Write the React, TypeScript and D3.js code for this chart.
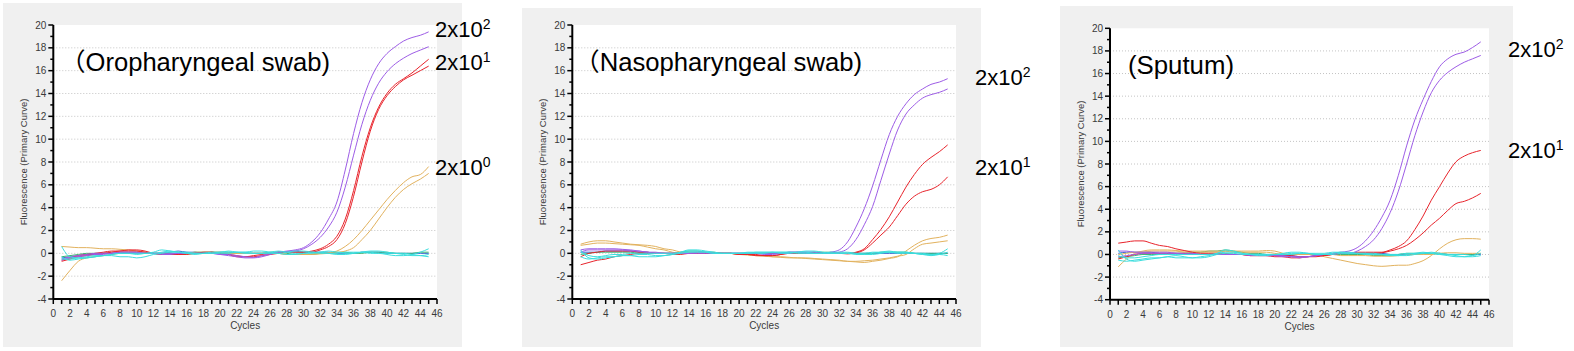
import React from "react";
import { scaleLinear, line, curveMonotoneX, range } from "d3";

// cycle numbers 1..45
const cycles = range(1, 46);
const yTicks = [-4, -2, 0, 2, 4, 6, 8, 10, 12, 14, 16, 18, 20];
const xTicks = [0, 2, 4, 6, 8, 10, 12, 14, 16, 18, 20, 22, 24, 26, 28, 30, 32, 34, 36, 38, 40, 42, 44, 46];

// ---- Oropharyngeal swab ----
const oroPurple1 = [-0.5, -0.3, -0.2, -0.1, 0, 0, 0, 0.1, 0.1, 0.1, 0, 0, 0, 0, 0, 0, 0, 0, 0, -0.1, -0.1, -0.2, -0.3, -0.35, -0.2, 0, 0.1, 0.2, 0.3, 0.5, 1.0, 1.8, 3.0, 4.5, 7.3, 10.5, 13.2, 15.2, 16.6, 17.5, 18.1, 18.6, 18.9, 19.1, 19.4];
const oroPurple2 = [-0.6, -0.4, -0.3, -0.2, -0.1, -0.1, 0, 0, 0, 0, 0, 0, -0.1, -0.1, 0, 0, 0, 0, 0, -0.1, -0.2, -0.3, -0.4, -0.4, -0.3, -0.1, 0.1, 0.15, 0.2, 0.4, 0.8, 1.4, 2.3, 3.6, 5.8, 8.6, 11.3, 13.4, 14.9, 15.9, 16.6, 17.1, 17.5, 17.8, 18.1];
const oroRed1 = [-0.6, -0.4, -0.2, -0.1, 0, 0.1, 0.2, 0.2, 0.3, 0.3, 0.2, 0, -0.1, -0.1, -0.1, 0, 0, 0.1, 0.1, 0, -0.1, -0.3, -0.3, -0.2, -0.1, 0, 0.1, 0.1, 0.1, 0.1, 0.2, 0.4, 0.8, 1.5, 3.0, 5.5, 8.5, 11.0, 12.8, 14.0, 14.8, 15.3, 15.8, 16.4, 17.0];
const oroRed2 = [-0.7, -0.5, -0.3, -0.2, -0.1, 0, 0.1, 0.2, 0.2, 0.2, 0.1, 0, 0, -0.1, -0.1, -0.1, 0, 0, 0.1, 0, -0.1, -0.2, -0.3, -0.3, -0.2, -0.1, 0, 0.1, 0.1, 0.1, 0.1, 0.3, 0.6, 1.2, 2.6, 5.0, 8.0, 10.7, 12.6, 13.8, 14.6, 15.2, 15.6, 16.0, 16.4];
const oroGold1 = [0.6, 0.55, 0.5, 0.5, 0.45, 0.4, 0.4, 0.35, 0.3, 0.2, 0.1, 0, -0.1, -0.1, -0.1, 0, 0.1, 0.1, 0.1, 0, 0, 0, 0, 0, 0, 0, 0, -0.1, -0.1, -0.1, -0.05, 0, 0.05, 0.2, 0.6, 1.2, 2.0, 2.9, 3.8, 4.7, 5.5, 6.2, 6.7, 6.9, 7.6];
const oroGold2 = [-2.4, -1.5, -0.7, -0.4, -0.3, -0.2, -0.1, 0, 0, 0, 0, 0, -0.1, -0.1, -0.1, -0.1, 0, 0, 0.1, 0.1, 0, 0, 0, 0, 0, 0, 0, -0.1, -0.1, -0.1, -0.1, -0.05, 0, 0.05, 0.2, 0.5, 1.2, 2.0, 3.0, 4.0, 4.9, 5.6, 6.1, 6.5, 7.0];
const oroCyan1 = [0.6, -0.3, -0.4, -0.3, -0.2, -0.2, -0.1, 0, 0, -0.1, 0, 0.1, 0.3, 0.2, 0.1, 0.1, 0, 0, 0, 0.1, 0.1, 0.1, 0.1, 0, 0, 0, 0, 0.1, 0.2, 0.2, 0.1, 0, 0, 0, 0.1, 0.1, 0.1, 0, 0, -0.1, -0.2, -0.2, -0.1, 0.1, 0.4];
const oroCyan2 = [-0.5, -0.5, -0.4, -0.4, -0.3, -0.2, -0.2, -0.3, -0.3, -0.4, -0.3, -0.1, 0, 0.1, 0.1, 0, 0, 0, 0, 0, 0, 0.1, 0.1, 0.2, 0.2, 0.1, 0, -0.1, -0.1, 0, 0.1, 0.1, 0, -0.1, -0.1, 0, 0.1, 0.2, 0.2, 0.1, 0, -0.1, -0.2, -0.2, -0.1];
const oroCyan3 = [-0.3, -0.6, -0.5, -0.4, -0.3, -0.2, -0.1, 0, 0, 0, 0, 0, 0.1, 0.2, 0.1, 0, -0.1, 0, 0.1, 0.1, 0.2, 0.1, 0, 0, 0, 0.1, 0.2, 0.1, 0, 0, 0, 0.1, 0.2, 0.1, 0, 0, 0.1, 0.1, 0, 0, 0, 0, -0.1, -0.2, -0.3];
const oroBlue = [-0.4, -0.3, -0.2, -0.1, -0.1, 0, 0, 0.1, 0.1, 0.1, 0, 0, 0, 0.1, 0.2, 0.1, 0.1, 0, 0, 0, 0, 0, 0, 0, 0, 0, 0.1, 0.1, 0.2, 0.1, 0.1, 0.1, 0.1, 0, 0, 0, 0.1, 0.1, 0.1, 0, 0, 0, 0, 0, 0];
const oroGreen = [-0.3, -0.2, -0.1, 0, 0, 0, 0, 0, 0, 0, 0, 0, 0, 0, 0, 0, 0.1, 0.1, 0.1, 0.1, 0.1, 0, 0, 0, 0, 0.1, 0.1, 0, -0.1, -0.1, -0.1, 0, 0, 0.1, 0.1, 0, 0, 0.1, 0.1, 0.1, 0, 0, 0, 0.1, 0.1];

// ---- Nasopharyngeal swab ----
const nasoPurple1 = [0.3, 0.4, 0.4, 0.4, 0.4, 0.35, 0.3, 0.2, 0.1, 0, 0, 0, 0, 0, 0.1, 0.1, 0, 0, 0, 0, 0, 0, -0.1, -0.1, 0, 0.1, 0.1, 0, 0, 0, 0.1, 0.3, 1.0, 2.3, 3.9, 5.9, 8.2, 10.4, 12.0, 13.1, 13.9, 14.4, 14.8, 15.0, 15.3];
const nasoPurple2 = [0.1, 0.3, 0.3, 0.3, 0.3, 0.3, 0.2, 0.2, 0.1, 0.1, 0, 0, 0, 0, 0, 0, 0, 0, 0, 0, 0, 0, 0, 0, 0, 0, 0.1, 0.1, 0.1, 0, 0, 0.1, 0.4, 1.2, 2.5, 4.1, 6.4, 8.7, 10.8, 12.2, 13.0, 13.6, 13.9, 14.1, 14.4];
const nasoRed1 = [-1.0, -0.8, -0.6, -0.5, -0.3, -0.2, -0.1, 0, 0, 0, 0, 0, 0, 0, 0, 0, 0, 0, 0, -0.1, -0.1, -0.2, -0.2, -0.2, -0.1, 0, 0, 0, 0, 0, 0, 0, -0.05, 0.1, 0.4, 1.2, 2.1, 3.2, 4.5, 5.8, 6.9, 7.8, 8.4, 8.9, 9.5];
const nasoRed2 = [-0.3, 0, 0.1, 0.2, 0.2, 0.2, 0.2, 0.1, 0.1, 0, 0, -0.1, -0.1, 0, 0, 0, 0, 0, 0, -0.1, -0.1, -0.1, -0.2, -0.2, -0.1, 0, 0, 0, 0, 0, 0, 0, 0, 0.05, 0.3, 0.9, 1.6, 2.3, 3.3, 4.3, 5.0, 5.4, 5.6, 6.0, 6.7];
const nasoGold1 = [0.8, 1.0, 1.1, 1.1, 1.0, 0.9, 0.8, 0.75, 0.7, 0.6, 0.4, 0.3, 0.1, 0, 0, 0, 0, 0, 0, -0.1, -0.1, -0.2, -0.2, -0.3, -0.35, -0.4, -0.4, -0.45, -0.5, -0.55, -0.6, -0.65, -0.7, -0.75, -0.8, -0.7, -0.6, -0.45, -0.3, 0.2, 0.7, 1.1, 1.3, 1.4, 1.6];
const nasoGold2 = [0.7, 0.8, 0.9, 0.9, 0.85, 0.8, 0.75, 0.7, 0.55, 0.4, 0.3, 0.1, 0, 0, 0, 0, 0, 0, 0, -0.1, -0.15, -0.2, -0.25, -0.3, -0.3, -0.35, -0.4, -0.4, -0.45, -0.5, -0.55, -0.6, -0.7, -0.7, -0.65, -0.6, -0.5, -0.4, -0.25, -0.1, 0.4, 0.8, 0.9, 1.0, 1.1];
const nasoCyan1 = [0.3, -0.4, -0.5, -0.4, -0.3, -0.2, -0.2, -0.1, -0.1, -0.2, -0.2, -0.1, 0.1, 0.3, 0.3, 0.2, 0.1, 0, 0, 0, 0, 0.1, 0.1, 0.1, 0, 0, 0.1, 0.2, 0.2, 0.1, 0, 0, 0, -0.1, -0.1, 0, 0.1, 0.2, 0.1, 0.1, 0, -0.1, -0.1, 0, 0.4];
const nasoCyan2 = [-0.3, -0.5, -0.4, -0.3, -0.3, -0.2, -0.2, -0.3, -0.3, -0.3, -0.2, -0.1, 0, 0.1, 0.1, 0.1, 0, 0, 0, 0, 0.1, 0.1, 0.1, 0.1, 0.1, 0.1, 0, 0, 0, 0, 0.1, 0.1, 0.1, 0, -0.1, -0.1, 0, 0.1, 0.1, 0.1, 0, -0.1, -0.2, -0.1, 0.1];
const nasoCyan3 = [0.1, -0.2, -0.3, -0.2, -0.1, -0.1, 0, 0, 0, 0, 0, 0, 0.1, 0.2, 0.2, 0.1, 0, 0, 0, 0, 0, 0, 0, 0.1, 0.1, 0.1, 0.1, 0.1, 0, 0, 0, 0, 0, 0, 0, 0.1, 0.1, 0.1, 0, 0, 0, 0, -0.1, -0.1, -0.2];
const nasoBlue = [0.1, 0.1, 0.1, 0.2, 0.2, 0.2, 0.2, 0.1, 0.1, 0, 0, 0, 0, 0, 0, 0, 0, 0, 0, 0, 0, 0, 0, 0, 0, 0.1, 0.1, 0.1, 0.1, 0, 0, 0, 0, 0, 0, 0, 0, 0, 0, 0, 0, 0, 0, 0, 0];
const nasoGreen = [-0.1, 0, 0.1, 0.1, 0.1, 0.1, 0.1, 0, 0, 0, 0, 0, 0.1, 0.2, 0.2, 0.1, 0.1, 0, 0, 0, 0, 0, 0, 0, 0, 0, 0, 0, 0.1, 0.1, 0.1, 0, 0, 0, 0, 0, 0.1, 0.1, 0.1, 0.1, 0, 0, 0, 0, 0];

// ---- Sputum ----
const spuPurple1 = [0.3, 0.3, 0.2, 0.2, 0.2, 0.2, 0.2, 0.1, 0.1, 0.1, 0, 0, 0, 0, 0, 0, 0, 0, -0.1, -0.1, -0.1, -0.2, -0.2, -0.2, -0.1, 0, 0.1, 0.2, 0.3, 0.6, 1.2, 2.1, 3.3, 4.8, 7.0, 9.6, 11.9, 13.7, 15.3, 16.6, 17.3, 17.7, 17.9, 18.3, 18.8];
const spuPurple2 = [-0.2, -0.1, 0, 0.1, 0.1, 0.1, 0.1, 0.1, 0, 0, 0, 0, 0, 0, 0, 0, -0.1, -0.1, -0.1, -0.1, -0.2, -0.2, -0.3, -0.2, -0.1, 0, 0, 0.1, 0.1, 0.3, 0.7, 1.3, 2.3, 3.7, 5.6, 8.0, 10.5, 12.6, 14.3, 15.4, 16.1, 16.6, 17.0, 17.3, 17.6];
const spuRed1 = [1.0, 1.1, 1.2, 1.2, 1.0, 0.8, 0.7, 0.5, 0.35, 0.2, 0.1, 0.1, 0.1, 0.1, 0, 0, -0.1, -0.1, -0.1, -0.1, -0.1, -0.1, -0.2, -0.2, -0.1, -0.1, 0, 0.1, 0.1, 0.2, 0.2, 0.2, 0.2, 0.4, 0.7, 1.2, 2.2, 3.4, 4.8, 6.0, 7.2, 8.2, 8.7, 9.0, 9.2];
const spuRed2 = [-0.4, -0.2, 0, 0.1, 0.1, 0.1, 0.1, 0.1, 0.1, 0, 0, 0, 0, 0, 0, 0, -0.1, -0.1, -0.1, -0.2, -0.2, -0.3, -0.3, -0.2, -0.2, -0.1, 0, 0.1, 0.1, 0.1, 0.1, 0.1, 0.15, 0.3, 0.5, 0.8, 1.3, 1.9, 2.6, 3.2, 3.9, 4.5, 4.7, 5.0, 5.4];
const spuGold1 = [-1.1, -0.4, 0.1, 0.3, 0.4, 0.4, 0.4, 0.35, 0.3, 0.3, 0.3, 0.3, 0.3, 0.3, 0.3, 0.3, 0.3, 0.3, 0.35, 0.3, 0.1, 0, 0, 0, 0, -0.2, -0.35, -0.5, -0.65, -0.8, -0.9, -1.0, -1.05, -1.0, -0.95, -0.95, -0.8, -0.55, -0.1, 0.5, 1.0, 1.3, 1.4, 1.4, 1.35];
const spuGold2 = [0, 0.1, 0.2, 0.2, 0.3, 0.3, 0.3, 0.3, 0.2, 0.2, 0.2, 0.2, 0.2, 0.3, 0.2, 0.2, 0.2, 0.2, 0.2, 0.1, 0, 0, 0, 0, 0, 0, 0, -0.1, -0.1, -0.1, -0.1, -0.15, -0.15, -0.15, -0.1, -0.05, 0, 0, 0, 0.1, 0.15, 0.15, 0.1, 0.1, 0.1];
const spuCyan1 = [0.4, -0.4, -0.6, -0.5, -0.4, -0.3, -0.2, -0.1, -0.2, -0.3, -0.3, -0.2, 0, 0.1, 0.1, 0, 0, 0, 0, 0, 0.1, 0.2, 0.2, 0.1, 0, 0, 0.1, 0.2, 0.2, 0.1, 0.1, 0, 0, 0, -0.1, 0, 0.1, 0.2, 0.1, 0, -0.1, -0.2, -0.2, -0.1, 0.4];
const spuCyan2 = [-0.5, -0.6, -0.5, -0.4, -0.3, -0.3, -0.2, -0.3, -0.3, -0.3, -0.2, -0.1, 0.1, 0.2, 0.2, 0.1, 0, -0.1, -0.1, 0, 0, 0.1, 0.1, 0.1, 0, 0, 0, 0.1, 0.1, 0.1, 0.1, 0.1, 0, -0.1, -0.1, -0.1, 0, 0.1, 0.2, 0.1, 0, -0.1, -0.2, -0.2, -0.1];
const spuCyan3 = [-0.1, -0.3, -0.3, -0.2, -0.1, 0, 0, 0, 0, 0, 0, 0, 0.1, 0.4, 0.3, 0.1, 0, 0, 0, 0, 0, 0, 0.1, 0.1, 0.1, 0.1, 0.2, 0.2, 0.1, 0.1, 0, 0, 0, 0, 0, 0.1, 0.1, 0.1, 0.1, 0, 0, 0, 0, -0.1, 0.1];
const spuBlue = [0.1, 0.2, 0.2, 0.2, 0.2, 0.1, 0.1, 0.1, 0.1, 0.1, 0, 0, 0, 0, 0, 0, 0, 0, 0, 0, -0.1, -0.1, -0.2, -0.2, -0.1, 0, 0, 0.1, 0.1, 0.1, 0.1, 0.1, 0.1, 0, 0, 0, 0, 0.1, 0.1, 0.1, 0, 0, 0, 0, 0];
const spuGreen = [-0.3, -0.2, -0.1, 0, 0, 0, 0.1, 0.1, 0.1, 0.2, 0.2, 0.3, 0.3, 0.4, 0.3, 0.2, 0.1, 0.1, 0, 0, 0, 0, 0, 0, 0, 0, 0, 0, 0, 0, 0, -0.1, -0.1, -0.1, 0, 0.1, 0.1, 0.1, 0.1, 0.1, 0, 0, 0, 0, 0.1];

const PURPLE = "#9d5ce6";
const RED = "#e8232b";
const GOLD = "#e2b25e";
const CYAN = "#3adede";
const BLUE = "#3a5fd0";
const GREEN = "#3cb371";

type Series = { values: number[]; color: string };
type Label = { exp: string; y: number };

type PanelProps = {
  bg: [number, number, number, number];
  plot: [number, number, number, number];
  title: string;
  titleX: number;
  titleY: number;
  titleLen: number;
  series: Series[];
  labelX: number;
  labels: Label[];
};

const Panel = ({ bg, plot, title, titleX, titleY, titleLen, series, labelX, labels }: PanelProps) => {
  const [px0, py0, px1, py1] = plot;
  const x = scaleLinear().domain([0, 46]).range([px0, px1]);
  const y = scaleLinear().domain([-4, 20]).range([py1, py0]);
  const path = line<number>()
    .x((d, i) => x(cycles[i]))
    .y((d) => y(d))
    .curve(curveMonotoneX);

  return (
    <g>
      <rect x={bg[0]} y={bg[1]} width={bg[2] - bg[0]} height={bg[3] - bg[1]} fill="#f0f0f0" />
      <rect x={px0} y={py0} width={px1 - px0} height={py1 - py0} fill="#fff" />
      {yTicks.filter((t) => t > -4 && t < 20).map((t) => (
        <line key={t} x1={px0} x2={px1} y1={y(t)} y2={y(t)} stroke="#c4c4c4" strokeDasharray="1,2" />
      ))}
      <text x={titleX} y={titleY} fontSize={25} textLength={titleLen} lengthAdjust="spacingAndGlyphs"
        fontFamily="'Liberation Sans', 'Noto Sans CJK SC', Arial, sans-serif" fill="#000">{title}</text>
      {series.map((s, i) => (
        <path key={i} d={path(s.values) || ""} fill="none" stroke={s.color} strokeWidth={1} />
      ))}
      {/* axes */}
      <line x1={px0} x2={px0} y1={py0} y2={py1} stroke="#000" strokeWidth={2} />
      <line x1={px0} x2={px1} y1={py1} y2={py1} stroke="#000" strokeWidth={2} />
      {range(-4, 21).map((t) => (
        <line key={"yt" + t} x1={px0 - (t % 2 === 0 ? 5 : 3)} x2={px0} y1={y(t)} y2={y(t)} stroke="#000" strokeWidth={1.5} />
      ))}
      {range(0, 47).map((t) => (
        <line key={"xt" + t} x1={x(t)} x2={x(t)} y1={py1} y2={py1 + 5} stroke="#000" strokeWidth={1.5} />
      ))}
      <g fontFamily="'Liberation Sans', Arial, sans-serif" fontSize={10} fill="#3a3a3a">
        {yTicks.map((t) => (
          <text key={"yl" + t} x={px0 - 7} y={y(t) + 3.5} textAnchor="end">{t}</text>
        ))}
        {xTicks.map((t) => (
          <text key={"xl" + t} x={x(t)} y={py1 + 18} textAnchor="middle">{t}</text>
        ))}
        <text x={(px0 + px1) / 2} y={py1 + 30} textAnchor="middle">Cycles</text>
        <text transform={`translate(${px0 - 26},${(py0 + py1) / 2}) rotate(-90)`} textAnchor="middle" fontSize={9.5}>
          Fluorescence (Primary Curve)
        </text>
      </g>
      <g fontFamily="'Liberation Sans', Arial, sans-serif" fontSize={22} fill="#000">
        {labels.map((l, i) => (
          <text key={i} x={labelX} y={l.y}>
            2x10<tspan fontSize={14} dy={-8}>{l.exp}</tspan>
          </text>
        ))}
      </g>
    </g>
  );
};

export default function App() {
  return (
    <svg width={1574} height={351} style={{ position: "absolute", left: 0, top: 0, background: "#fff" }}>
      <Panel
        bg={[3, 3, 462, 347]}
        plot={[53.3, 25, 437, 299]}
        title="（Oropharyngeal swab)"
        titleX={60}
        titleY={71}
        titleLen={270}
        labelX={435}
        labels={[{ exp: "2", y: 37 }, { exp: "1", y: 70 }, { exp: "0", y: 175 }]}
        series={[
          { values: oroBlue, color: BLUE },
          { values: oroGreen, color: GREEN },
          { values: oroGold1, color: GOLD },
          { values: oroGold2, color: GOLD },
          { values: oroRed1, color: RED },
          { values: oroRed2, color: RED },
          { values: oroPurple1, color: PURPLE },
          { values: oroPurple2, color: PURPLE },
          { values: oroCyan1, color: CYAN },
          { values: oroCyan2, color: CYAN },
          { values: oroCyan3, color: CYAN },
        ]}
      />
      <Panel
        bg={[522, 8, 981, 347]}
        plot={[572.3, 25, 956, 299]}
        title="（Nasopharyngeal swab)"
        titleX={574}
        titleY={71}
        titleLen={288}
        labelX={975}
        labels={[{ exp: "2", y: 85 }, { exp: "1", y: 175 }]}
        series={[
          { values: nasoBlue, color: BLUE },
          { values: nasoGreen, color: GREEN },
          { values: nasoGold1, color: GOLD },
          { values: nasoGold2, color: GOLD },
          { values: nasoRed1, color: RED },
          { values: nasoRed2, color: RED },
          { values: nasoPurple1, color: PURPLE },
          { values: nasoPurple2, color: PURPLE },
          { values: nasoCyan1, color: CYAN },
          { values: nasoCyan2, color: CYAN },
          { values: nasoCyan3, color: CYAN },
        ]}
      />
      <Panel
        bg={[1060, 6, 1513, 347]}
        plot={[1110, 28.3, 1489, 299.7]}
        title="(Sputum)"
        titleX={1128}
        titleY={74}
        titleLen={106}
        labelX={1508}
        labels={[{ exp: "2", y: 57 }, { exp: "1", y: 158 }]}
        series={[
          { values: spuBlue, color: BLUE },
          { values: spuGreen, color: GREEN },
          { values: spuGold1, color: GOLD },
          { values: spuGold2, color: GOLD },
          { values: spuRed1, color: RED },
          { values: spuRed2, color: RED },
          { values: spuPurple1, color: PURPLE },
          { values: spuPurple2, color: PURPLE },
          { values: spuCyan1, color: CYAN },
          { values: spuCyan2, color: CYAN },
          { values: spuCyan3, color: CYAN },
        ]}
      />
    </svg>
  );
}
